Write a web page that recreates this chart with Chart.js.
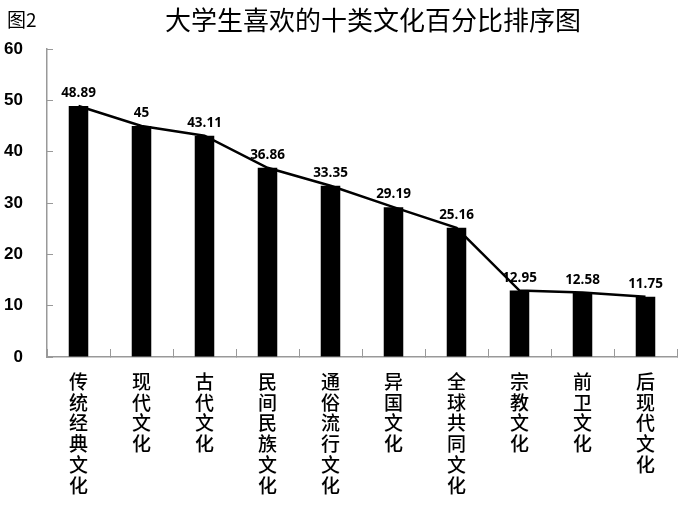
<!DOCTYPE html>
<html>
<head>
<meta charset="utf-8">
<script src="https://cdn.jsdelivr.net/npm/chart.js@4/dist/chart.umd.min.js"></script>
<style>
  html, body { margin: 0; padding: 0; background: #fff; }
  #wrap { width: 685px; height: 507px; }
</style>
</head>
<body>
<div id="wrap"><canvas id="myChart" width="685" height="507"></canvas></div>
<script>
// categories and values
const categories = ['传统经典文化', '现代文化', '古代文化', '民间民族文化', '通俗流行文化',
                    '异国文化', '全球共同文化', '宗教文化', '前卫文化', '后现代文化'];
const percents = [48.89, 45, 43.11, 36.86, 33.35, 29.19, 25.16, 12.95, 12.58, 11.75];
const yTicks = [0, 10, 20, 30, 40, 50, 60];
const titleText = '大学生喜欢的十类文化百分比排序图';
const figText = '图2';

// vertical labels: one character per line
const labels = categories.map(c => c.split(''));

// draws the value over every point of the line
const valueLabels = {
    id: 'valueLabels',
    afterDatasetsDraw(chart) {
        const ctx = chart.ctx;
        const meta = chart.getDatasetMeta(1);
        ctx.save();
        ctx.font = 'bold 13.5px "Open Sans", sans-serif';
        ctx.fillStyle = '#000';
        ctx.textAlign = 'center';
        ctx.textBaseline = 'bottom';
        meta.data.forEach((pt, i) => {
            ctx.fillText(String(percents[i]), pt.x, pt.y - 6);
        });
        ctx.restore();
    }
};

// title and figure number
const headText = {
    id: 'headText',
    afterDraw(chart) {
        const ctx = chart.ctx;
        ctx.save();
        ctx.fillStyle = '#000';
        ctx.textBaseline = 'middle';
        ctx.font = '19px "Noto Sans CJK SC", sans-serif';
        ctx.textAlign = 'left';
        ctx.fillText(figText, 7, 20);
        ctx.font = '26px "Noto Sans CJK SC", sans-serif';
        ctx.textAlign = 'center';
        ctx.fillText(titleText, 373, 20);
        ctx.restore();
    }
};

const ctx = document.getElementById('myChart').getContext('2d');
const myChart = new Chart(ctx, {
    type: 'bar',
    data: {
        labels: labels,
        datasets: [{
            type: 'bar',
            data: percents,
            backgroundColor: '#000',
            borderWidth: 0,
            barPercentage: 0.31,
            categoryPercentage: 1,
            order: 1
        }, {
            type: 'line',
            data: percents,
            borderColor: '#000',
            borderWidth: 2.5,
            pointRadius: 0,
            tension: 0,
            order: 2
        }]
    },
    options: {
        responsive: false,
        animation: false,
        layout: { padding: { top: 49, right: 8, left: 0, bottom: 0 } },
        plugins: {
            legend: { display: false },
            tooltip: { enabled: false },
            title: { display: false }
        },
        scales: {
            x: {
                // negative tick length puts the marks inside, as in the picture
                grid: { drawOnChartArea: false, tickLength: -8, color: '#999' },
                border: { color: '#999', width: 1.5 },
                ticks: {
                    autoSkip: false,
                    maxRotation: 0,
                    minRotation: 0,
                    padding: 22,
                    color: '#000',
                    font: { family: '"Noto Sans CJK SC", sans-serif', size: 19, weight: 500, lineHeight: 1.1 }
                },
                afterFit(scale) { scale.height = 150; }
            },
            y: {
                min: 0,
                max: 60,
                afterBuildTicks(scale) { scale.ticks = yTicks.map(v => ({ value: v })); },
                grid: { drawOnChartArea: false, tickLength: -6, color: '#999' },
                border: { color: '#999', width: 1.5 },
                ticks: {
                    padding: 30,
                    color: '#000',
                    font: { family: '"Liberation Sans", Arial, sans-serif', size: 17, weight: 'bold' }
                },
                afterFit(scale) { scale.width = 47; }
            }
        }
    },
    plugins: [valueLabels, headText]
});
</script>
</body>
</html>
